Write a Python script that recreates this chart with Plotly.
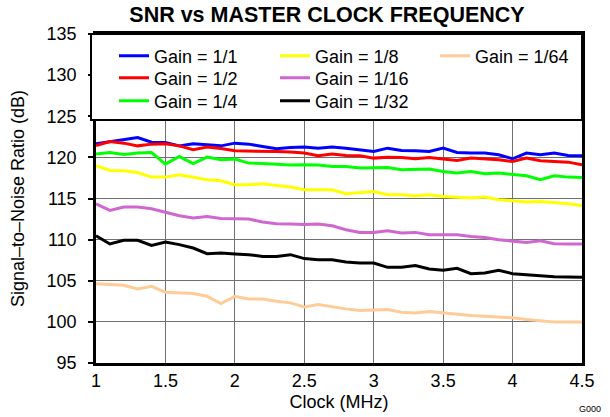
import plotly.graph_objects as go

clock_mhz = [1.0, 1.1, 1.2, 1.3, 1.4, 1.5, 1.6, 1.7, 1.8, 1.9,
             2.0, 2.1, 2.2, 2.3, 2.4, 2.5, 2.6, 2.7, 2.8, 2.9,
             3.0, 3.1, 3.2, 3.3, 3.4, 3.5, 3.6, 3.7, 3.8, 3.9,
             4.0, 4.1, 4.2, 4.3, 4.4, 4.5]

snr_gain_1_1 = [121.65, 121.93, 122.13, 122.41, 121.85, 121.80, 121.40, 121.65, 121.53, 121.40,
                121.73, 121.61, 121.32, 121.04, 121.20, 121.25, 121.12, 121.25, 121.12, 120.92,
                120.71, 121.12, 120.83, 120.80, 120.71, 121.12, 120.59, 120.52, 120.52, 120.31,
                119.83, 120.52, 120.31, 120.52, 120.23, 120.19]
snr_gain_1_2 = [121.44, 121.93, 121.73, 121.40, 121.61, 121.65, 121.40, 120.92, 121.25, 121.08,
                120.80, 120.80, 120.71, 120.71, 120.64, 120.52, 120.19, 120.40, 120.23, 120.19,
                119.91, 120.03, 119.98, 119.83, 119.98, 119.79, 119.62, 119.91, 119.83, 119.70,
                119.50, 119.91, 119.58, 119.50, 119.42, 119.10]
snr_gain_1_4 = [120.40, 120.59, 120.35, 120.52, 120.59, 119.18, 120.10, 119.25, 120.03, 119.70,
                119.79, 119.30, 119.25, 119.13, 119.06, 119.10, 119.06, 118.89, 118.89, 118.70,
                118.77, 118.77, 118.49, 118.49, 118.58, 118.28, 118.09, 118.28, 118.00, 118.09,
                117.97, 117.76, 117.28, 117.76, 117.60, 117.55]
snr_gain_1_8 = [118.98, 118.41, 118.37, 118.16, 117.60, 117.60, 117.88, 117.56, 117.28, 117.15,
                116.67, 116.67, 116.79, 116.58, 116.39, 116.06, 116.06, 116.06, 115.58, 115.73,
                115.86, 115.45, 115.45, 115.33, 115.45, 115.25, 115.18, 115.05, 115.18, 114.85,
                114.73, 114.57, 114.64, 114.52, 114.36, 114.16]
snr_gain_1_16 = [114.36, 113.55, 113.96, 113.96, 113.76, 113.35, 112.91, 112.63, 112.82, 112.58,
                 112.54, 112.50, 112.14, 111.93, 111.90, 111.85, 111.90, 111.69, 111.21, 110.88,
                 110.88, 111.08, 110.81, 110.88, 110.60, 110.60, 110.60, 110.39, 110.27, 109.99,
                 109.87, 109.66, 109.87, 109.51, 109.47, 109.47]
snr_gain_1_32 = [110.48, 109.47, 109.91, 109.91, 109.30, 109.71, 109.39, 108.98, 108.29, 108.38,
                 108.26, 108.17, 107.96, 107.96, 108.17, 107.69, 107.56, 107.56, 107.29, 107.16,
                 107.16, 106.63, 106.63, 106.84, 106.44, 106.27, 106.51, 105.86, 105.95, 106.27,
                 105.86, 105.74, 105.54, 105.50, 105.46, 105.42]
snr_gain_1_64 = [104.65, 104.57, 104.44, 104.01, 104.32, 103.59, 103.52, 103.44, 103.11, 102.22,
                 103.11, 102.79, 102.79, 102.50, 102.31, 101.82, 102.10, 101.82, 101.58, 101.37,
                 101.41, 101.49, 101.17, 101.09, 101.25, 101.09, 100.89, 100.77, 100.68, 100.61,
                 100.49, 100.28, 100.16, 100.00, 100.00, 100.00]

series_names = ["Gain = 1/1", "Gain = 1/2", "Gain = 1/4", "Gain = 1/8",
                "Gain = 1/16", "Gain = 1/32", "Gain = 1/64"]
series_values = [snr_gain_1_1, snr_gain_1_2, snr_gain_1_4, snr_gain_1_8,
                 snr_gain_1_16, snr_gain_1_32, snr_gain_1_64]
series_colors = ["#0000FF", "#FF0000", "#00FF00", "#FFFF00",
                 "#D066D0", "#000000", "#FFCC99"]

x_ticks = [1, 1.5, 2, 2.5, 3, 3.5, 4, 4.5]
y_ticks = [95, 100, 105, 110, 115, 120, 125, 130, 135]

FONT = "Liberation Sans, Arial, sans-serif"

# plot-area geometry (pixels)
W, H = 610, 417
ML, MR, MT, MB = 96, 28, 34, 54
PW, PH = W - ML - MR, H - MT - MB

def px_x(p):
    return (p - ML) / PW

def px_y(p):
    return 1 - (p - MT) / PH

# legend grid: 3 columns (column-major order), 3 rows
leg_cols = [114, 275, 435]
leg_rows = [56, 78, 101]

fig = go.Figure()
layout_legends = {}
for i, (name, vals, col) in enumerate(zip(series_names, series_values, series_colors)):
    key = "legend" if i == 0 else f"legend{i + 1}"
    fig.add_trace(go.Scatter(x=clock_mhz, y=vals, mode="lines", name=name, showlegend=True,
                             line=dict(color=col, width=3), legend=key))
    c, r = divmod(i, 3)
    layout_legends[key] = dict(
        bgcolor="rgba(0,0,0,0)", borderwidth=0, visible=True,
        font=dict(size=18, color="black", family=FONT),
        x=px_x(leg_cols[c]), y=px_y(leg_rows[r]),
        xanchor="left", yanchor="middle", itemwidth=30)

fig.update_layout(
    width=W, height=H,
    showlegend=True,
    margin=dict(l=ML, r=MR, t=MT, b=MB),
    paper_bgcolor="white", plot_bgcolor="white",
    font=dict(family=FONT, size=18, color="black"),
    title=dict(text="<b>SNR vs MASTER CLOCK FREQUENCY</b>", font=dict(size=21.5, family=FONT),
               x=327 / W, xanchor="center", xref="container",
               y=1 - 14 / H, yanchor="middle", yref="container"),
    xaxis=dict(range=[1, 4.5], tickvals=x_ticks, ticktext=[str(v) for v in x_ticks],
               showgrid=True, gridcolor="#707070", gridwidth=1,
               showline=True, linecolor="black", linewidth=2.5, mirror=True,
               ticks="", zeroline=False, automargin=False,
               title=dict(text="Clock (MHz)", font=dict(size=18), standoff=6)),
    yaxis=dict(range=[95, 135], tickvals=y_ticks,
               showgrid=True, gridcolor="#707070", gridwidth=1,
               showline=True, linecolor="black", linewidth=2.5, mirror=True,
               ticks="outside", ticklen=5, tickcolor="black", tickwidth=1.5,
               ticklabelstandoff=8, zeroline=False, automargin=False,
               title=dict(text="Signal–to–Noise Ratio (dB)", font=dict(size=18), standoff=18)),
    shapes=[dict(type="rect", xref="paper", yref="paper",
                 x0=px_x(91), x1=1.0, y0=px_y(120), y1=1.0,
                 fillcolor="white", line=dict(color="black", width=2), layer="above")],
    annotations=[dict(text="G000", x=px_x(590), y=px_y(409), xref="paper", yref="paper",
                      xanchor="center", yanchor="middle", showarrow=False,
                      font=dict(size=9, family=FONT))],
    **layout_legends,
)

fig.write_html("out.html",
               config={"displayModeBar": False},
               post_script="document.body.style.margin='0';document.body.style.padding='0';")
